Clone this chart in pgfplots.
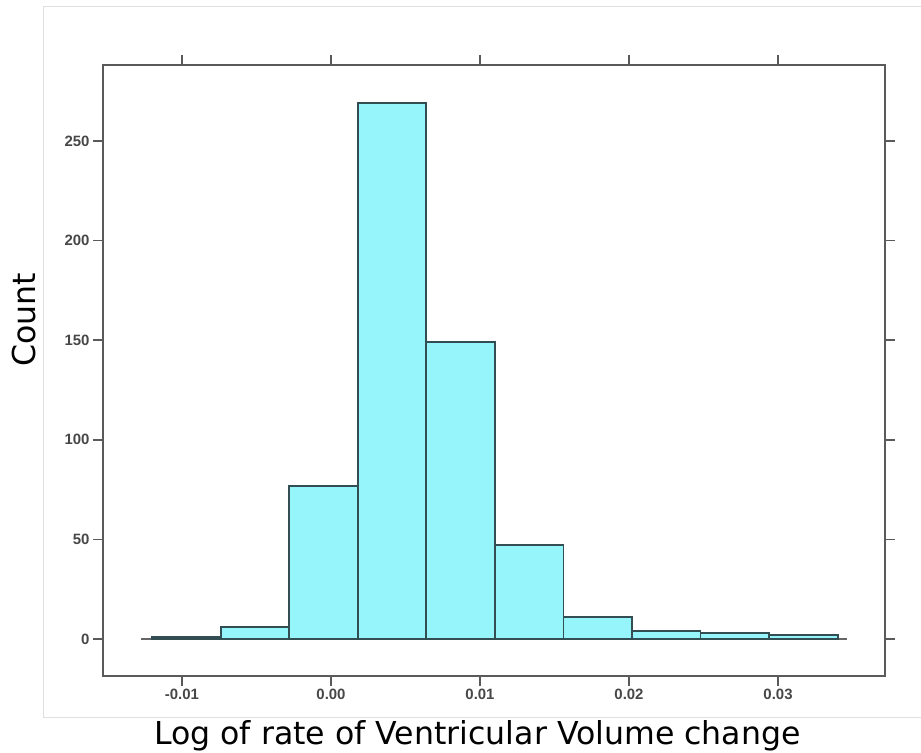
\documentclass[border=0pt]{standalone}
\usepackage{pgfplots}
\pgfplotsset{compat=1.18}
\usepackage{fontspec}
\setmainfont{Liberation Sans}
\newfontfamily\labelfont{DejaVu Sans}
\definecolor{barfill}{RGB}{150,245,250}
\definecolor{baredge}{RGB}{50,78,82}
\definecolor{boxline}{RGB}{90,90,90}
\begin{document}
\begin{tikzpicture}[x=1bp,y=1bp]
\useasboundingbox (0,0) rectangle (921,753);
% light outer panel frame
\draw[black!12, line width=1bp] (921,746) -- (43,746) -- (43,35) -- (921,35);
\begin{axis}[
  at={(103bp,77bp)}, anchor=south west,
  scale only axis, width=782bp, height=611bp,
  xmin=-0.0153, xmax=0.03718, ymin=-18.6, ymax=288.2,
  axis line style={boxline, line width=1.8bp},
  tick style={boxline, line width=1.5bp},
  tick align=outside, major tick length=10bp,
  tick pos=both, xticklabel pos=lower, yticklabel pos=left,
  xtick={-0.01,0,0.01,0.02,0.03},
  xticklabels={-0.01,0.00,0.01,0.02,0.03},
  ytick={0,50,100,150,200,250},
  yticklabels={0,50,100,150,200,250},
  scaled x ticks=false, scaled y ticks=false,
  ticklabel style={font=\bfseries\fontsize{15}{17}\selectfont, text=black!72},
  clip=false,
]
% reference line at zero count
\addplot[black!60, line width=1.5bp] coordinates {(-0.01275,0) (0.03463,0)};
% histogram bins (bin width 0.0046)
\addplot[ybar interval, fill=barfill, draw=baredge, line width=1.9bp] coordinates {
  (-0.0120,1) (-0.0074,6) (-0.0028,77) (0.0018,269) (0.0064,149)
  (0.0110,47) (0.0156,11) (0.0202,4) (0.0248,3) (0.0294,2) (0.0340,2)};
\end{axis}
\node[font=\labelfont\fontsize{31.7}{36}\selectfont, anchor=base] at (477.5,8) {Log of rate of Ventricular Volume change};
\node[font=\labelfont\fontsize{31.7}{36}\selectfont, anchor=base, rotate=90] at (35,433) {Count};
\end{tikzpicture}
\end{document}
